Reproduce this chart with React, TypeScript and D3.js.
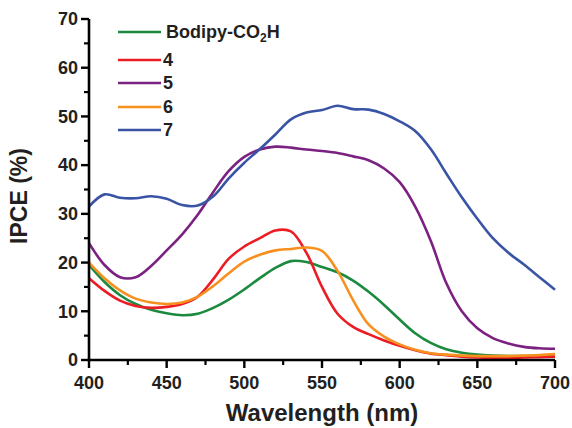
import React from "react";
import * as d3 from "d3";

const wavelengths = [400,410,420,430,440,450,460,470,480,490,500,510,520,530,540,550,560,570,580,590,600,610,620,630,640,650,660,670,680,690,700];

const bodipy = [19.5,16,13.3,11.5,10.3,9.6,9.2,9.5,10.7,12.4,14.5,16.8,18.9,20.3,20.1,19.1,18,16.3,14,11.3,8.3,5.5,3.5,2.2,1.5,1.1,0.9,0.8,0.8,0.9,1.0];
const s4 = [16.8,14.2,12.2,11.1,10.7,10.9,11.5,13,16.6,20.8,23.3,25,26.6,26.4,22,15,9.5,6.8,5.3,4,2.9,2,1.3,1,0.7,0.5,0.4,0.4,0.5,0.6,0.7];
const s5 = [24,19.5,17,17,19.3,22.5,25.8,29.8,34.5,38.8,41.7,43.2,43.8,43.6,43.2,42.9,42.5,41.8,41,39.3,36.5,31.5,24.5,15.8,10,6.5,4.5,3.4,2.7,2.4,2.3];
const s6 = [20,16.8,14.3,12.6,11.8,11.5,11.8,13,15.2,17.8,20.2,21.6,22.5,22.8,23.1,22.4,18.3,12.3,7.3,4.8,3.2,2.1,1.4,1.1,0.9,0.8,0.8,0.8,0.9,1.0,1.2];
const s7 = [31.5,34,33.3,33.2,33.6,33.1,31.8,31.7,33.6,37.3,40.5,43.3,46.3,49.4,50.8,51.3,52.2,51.5,51.4,50.5,49,47,43.3,38.3,33.4,29,25,22,19.6,17,14.4];

const seriesNames = ["Bodipy-CO2H", "4", "5", "6", "7"];
const seriesValues = [bodipy, s4, s5, s6, s7];
const seriesColors = ["#1b8a3e", "#ec1c24", "#7b2181", "#f7901e", "#3a54a5"];

const xTicks = [400, 450, 500, 550, 600, 650, 700];
const xMinor = [425, 475, 525, 575, 625, 675];
const yTicks = [0, 10, 20, 30, 40, 50, 60, 70];
const yMinor = [5, 15, 25, 35, 45, 55, 65];

const W = 572, H = 428;
const left = 89, right = 555, top = 19, bottom = 360;
const font = "'Liberation Sans', Arial, sans-serif";
const textColor = "#231f20";

export default function App() {
  const x = d3.scaleLinear().domain([400, 700]).range([left, right]);
  const y = d3.scaleLinear().domain([0, 70]).range([bottom, top]);
  const line = d3.line<number>()
    .x((_, i) => x(wavelengths[i]))
    .y((d) => y(d))
    .curve(d3.curveCatmullRom.alpha(0.5));

  const legendY = [32, 60, 83, 107, 130];

  return (
    <svg width={W} height={H} style={{ position: "absolute", left: 0, top: 0 }}>
      <rect width={W} height={H} fill="#fff" />
      {seriesValues.map((vals, i) => (
        <path key={i} d={line(vals) || ""} fill="none" stroke={seriesColors[i]} strokeWidth={2.6} strokeLinejoin="round" />
      ))}
      {/* axes */}
      <line x1={left} x2={left} y1={top} y2={bottom + 1.3} stroke="#000" strokeWidth={2.6} />
      <line x1={left - 1.3} x2={right} y1={bottom} y2={bottom} stroke="#000" strokeWidth={2.6} />
      {yTicks.map((t) => (
        <g key={"y" + t}>
          <line x1={left - 8} x2={left} y1={y(t)} y2={y(t)} stroke="#000" strokeWidth={2.4} />
          <text x={78} y={y(t) + 6.3} textAnchor="end" fontFamily={font} fontWeight="bold" fontSize={18} fill={textColor}>{t}</text>
        </g>
      ))}
      {yMinor.map((t) => (
        <line key={"ym" + t} x1={left - 5} x2={left} y1={y(t)} y2={y(t)} stroke="#000" strokeWidth={2.2} />
      ))}
      {xTicks.map((t) => (
        <g key={"x" + t}>
          <line x1={x(t)} x2={x(t)} y1={bottom} y2={bottom + 8} stroke="#000" strokeWidth={2.4} />
          <text x={x(t)} y={389} textAnchor="middle" fontFamily={font} fontWeight="bold" fontSize={18} fill={textColor}>{t}</text>
        </g>
      ))}
      {xMinor.map((t) => (
        <line key={"xm" + t} x1={x(t)} x2={x(t)} y1={bottom} y2={bottom + 5} stroke="#000" strokeWidth={2.2} />
      ))}
      <text x={322} y={421} textAnchor="middle" fontFamily={font} fontWeight="bold" fontSize={24} fill={textColor}>Wavelength (nm)</text>
      <text transform={`translate(27,196) rotate(-90)`} textAnchor="middle" fontFamily={font} fontWeight="bold" fontSize={23} fill={textColor}>IPCE (%)</text>
      {/* legend */}
      {seriesNames.map((n, i) => (
        <g key={"l" + n}>
          <line x1={118} x2={161} y1={legendY[i]} y2={legendY[i]} stroke={seriesColors[i]} strokeWidth={2.6} />
          <text x={i === 0 ? 166 : 163} y={legendY[i] + 6.3} fontFamily={font} fontWeight="bold" fontSize={18} fill={textColor}>
            {i === 0 ? (
              <>Bodipy-CO<tspan fontSize={12} dy={4}>2</tspan><tspan dy={-4}>H</tspan></>
            ) : n}
          </text>
        </g>
      ))}
    </svg>
  );
}
